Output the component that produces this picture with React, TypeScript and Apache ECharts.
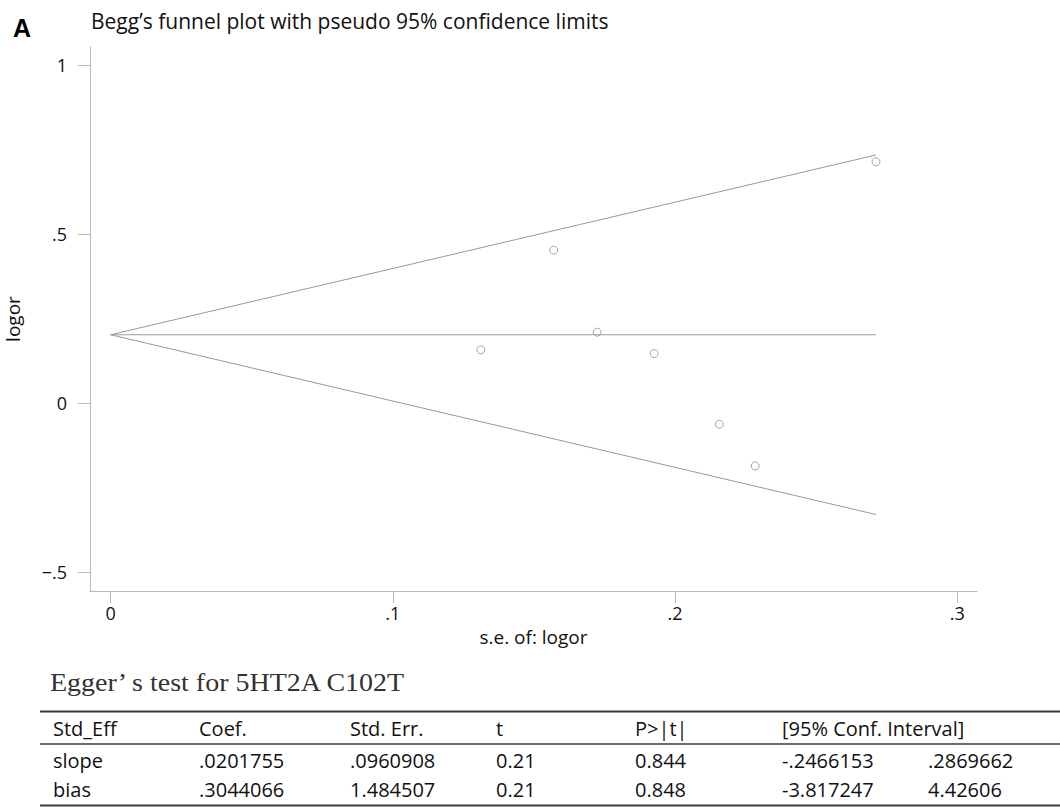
import React, { useEffect, useRef } from "react";
import * as echarts from "echarts";

// ---- data ----
const seLogor = [0.1312, 0.157, 0.1724, 0.1926, 0.2157, 0.2284, 0.2712];
const logor = [0.1577, 0.4527, 0.2101, 0.1467, -0.0621, -0.1855, 0.7139];
const pooledLine = [
  [0, 0.2024],
  [0.2712, 0.2024],
];
const upperLimit = [
  [0, 0.2024],
  [0.2712, 0.734],
];
const lowerLimit = [
  [0, 0.2024],
  [0.2712, -0.3292],
];
const xTickValues = [0, 0.1, 0.2, 0.3];
const xTickLabels = ["0", ".1", ".2", ".3"];
const yTickValues = [-0.5, 0, 0.5, 1];
const yTickLabels = ["\u2212.5", "0", ".5", "1"];

const tableHeader = ["Std_Eff", "Coef.", "Std. Err.", "t", "P>|t|", "[95% Conf. Interval]", ""];
const slopeRow = ["slope", ".0201755", ".0960908", "0.21", "0.844", "-.2466153", ".2869662"];
const biasRow = ["bias", ".3044066", "1.484507", "0.21", "0.848", "-3.817247", "4.42606"];

const panelLabel = "A";
const chartTitle = "Begg\u2019s funnel plot with pseudo 95% confidence limits";
const tableTitle = "Egger\u2019 s test for 5HT2A C102T";
const xName = "s.e. of: logor";
const yName = "logor";

// ---- layout ----
const colX = [53, 199, 350, 496, 635, 782, 928];
const rowY = [728, 760, 789];
const SANS = '"Open Sans", "Noto Sans", sans-serif';

function labelFor(values: number[], labels: string[]) {
  return (v: number) => {
    const i = values.findIndex((t) => Math.abs(t - v) < 1e-9);
    return i >= 0 ? labels[i] : "";
  };
}

export default function App() {
  const ref = useRef<HTMLDivElement>(null);

  useEffect(() => {
    if (!ref.current) return;
    const chart = echarts.init(ref.current, undefined, { renderer: "svg" });

    const tableTexts: any[] = [];
    [tableHeader, slopeRow, biasRow].forEach((row, r) => {
      row.forEach((cell, c) => {
        if (!cell) return;
        tableTexts.push({
          type: "text",
          x: colX[c],
          y: rowY[r],
          style: {
            text: cell,
            fontFamily: SANS,
            fontSize: 20,
            fill: "#111",
            align: "left",
            verticalAlign: "middle",
          },
        });
      });
    });

    const tableLines = [
      { y: 711.5, w: 2 },
      { y: 744, w: 1.5 },
      { y: 805.5, w: 2 },
    ].map((l) => ({
      type: "line",
      shape: { x1: 40, y1: l.y, x2: 1060, y2: l.y },
      style: { stroke: "#3a3a3a", lineWidth: l.w },
    }));

    const lineStyle = { color: "#9a9a9a", width: 1 };

    chart.setOption({
      animation: false,
      backgroundColor: "#fff",
      grid: { left: 90, right: 83, top: 47, bottom: 221, outerBoundsMode: "none" },
      xAxis: {
        type: "value",
        min: -0.0073,
        max: 0.307,
        name: xName,
        nameLocation: "middle",
        nameGap: 36,
        nameTextStyle: { fontFamily: SANS, fontSize: 19, color: "#111" },
        axisLine: { show: true, onZero: false, lineStyle: { color: "#b8b8b8", width: 1 } },
        axisTick: { show: true, length: 12, customValues: xTickValues, lineStyle: { color: "#b8b8b8" } },
        axisLabel: {
          customValues: xTickValues,
          formatter: labelFor(xTickValues, xTickLabels),
          margin: 13,
          fontFamily: SANS,
          fontSize: 18,
          color: "#111",
        },
        splitLine: { show: false },
      },
      yAxis: {
        type: "value",
        min: -0.5553,
        max: 1.0533,
        name: yName,
        nameLocation: "middle",
        nameGap: 68,
        nameTextStyle: { fontFamily: SANS, fontSize: 19, color: "#111" },
        axisLine: { show: true, onZero: false, lineStyle: { color: "#b8b8b8", width: 1 } },
        axisTick: { show: true, length: 12, customValues: yTickValues, lineStyle: { color: "#b8b8b8" } },
        axisLabel: {
          customValues: yTickValues,
          formatter: labelFor(yTickValues, yTickLabels),
          margin: 23,
          fontFamily: SANS,
          fontSize: 18,
          color: "#111",
        },
        splitLine: { show: false },
      },
      series: [
        { type: "line", data: upperLimit, showSymbol: false, silent: true, lineStyle },
        { type: "line", data: lowerLimit, showSymbol: false, silent: true, lineStyle },
        { type: "line", data: pooledLine, showSymbol: false, silent: true, lineStyle },
        {
          type: "scatter",
          data: seLogor.map((s, i) => [s, logor[i]]),
          symbol: "circle",
          symbolSize: 8,
          silent: true,
          itemStyle: { color: "rgba(255,255,255,0)", borderColor: "#8f8f8f", borderWidth: 1 },
        },
      ],
      graphic: [
        {
          type: "text",
          x: 13,
          y: 28,
          style: {
            text: panelLabel,
            fontFamily: '"Liberation Sans", Arial, sans-serif',
            fontWeight: "bold",
            fontSize: 25,
            fill: "#000",
            verticalAlign: "middle",
          },
        },
        {
          type: "text",
          x: 91,
          y: 21,
          style: {
            text: chartTitle,
            fontFamily: SANS,
            fontSize: 21,
            fill: "#111",
            verticalAlign: "middle",
          },
        },
        {
          type: "text",
          x: 50,
          y: 683,
          scaleX: 1.12,
          style: {
            text: tableTitle,
            fontFamily: '"Liberation Serif", serif',
            fontSize: 25,
            fill: "#333",
            verticalAlign: "middle",
          },
        },
        ...tableLines,
        ...tableTexts,
      ],
    });

    return () => chart.dispose();
  }, []);

  return (
    <div
      ref={ref}
      style={{ position: "fixed", left: 0, top: 0, width: 1060, height: 812, background: "#fff" }}
    />
  );
}
